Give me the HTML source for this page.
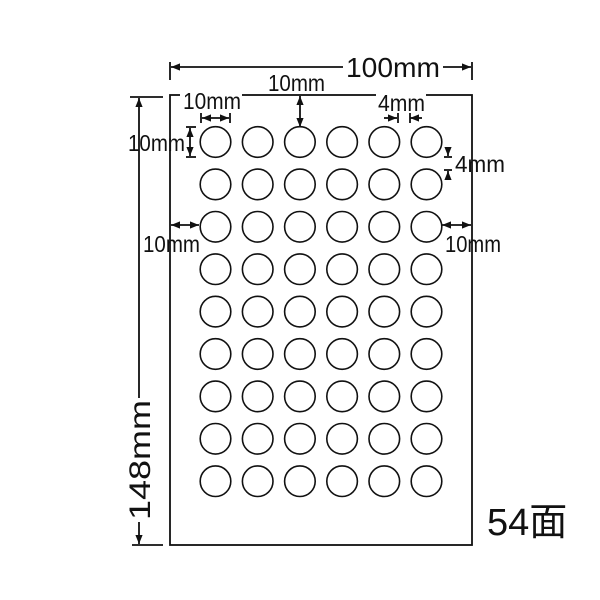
<!DOCTYPE html>
<html><head><meta charset="utf-8"><style>html,body{margin:0;padding:0;background:#fff}svg{display:block}</style></head>
<body>
<svg width="600" height="600" viewBox="0 0 600 600" xmlns="http://www.w3.org/2000/svg">
<defs>
<marker id="a" viewBox="0 0 10 10" refX="10" refY="5" markerWidth="5" markerHeight="5" orient="auto-start-reverse"><path d="M0,1 L10,5 L0,9 z" fill="#111"/></marker>
</defs>
<g stroke="#111" stroke-width="1.8" fill="none">
<rect x="170" y="95" width="302" height="450"/>
<line x1="170" y1="62" x2="170" y2="80"/><line x1="472" y1="62" x2="472" y2="80"/>
<line x1="171" y1="67" x2="343" y2="67" marker-start="url(#a)"/>
<line x1="443" y1="67" x2="471" y2="67" marker-end="url(#a)"/>
<line x1="130" y1="97" x2="163" y2="97"/><line x1="132" y1="545" x2="163" y2="545"/>
<line x1="139" y1="98" x2="139" y2="398" marker-start="url(#a)"/>
<line x1="139" y1="522" x2="139" y2="544" marker-end="url(#a)"/>
<line x1="201" y1="113" x2="201" y2="123"/><line x1="230" y1="113" x2="230" y2="123"/>
<line x1="202" y1="118" x2="229" y2="118" marker-start="url(#a)" marker-end="url(#a)"/>
<line x1="300" y1="96" x2="300" y2="127" marker-start="url(#a)" marker-end="url(#a)"/>
<line x1="384" y1="118" x2="397" y2="118" marker-end="url(#a)"/>
<line x1="410" y1="118" x2="422" y2="118" marker-start="url(#a)"/>
<line x1="398" y1="113" x2="398" y2="123"/><line x1="410" y1="113" x2="410" y2="123"/>
<line x1="186" y1="127" x2="196" y2="127"/><line x1="186" y1="157" x2="196" y2="157"/>
<line x1="190" y1="128" x2="190" y2="156" marker-start="url(#a)" marker-end="url(#a)"/>
<line x1="444" y1="157" x2="452" y2="157"/><line x1="444" y1="170" x2="452" y2="170"/>
<line x1="448" y1="147" x2="448" y2="156" marker-end="url(#a)"/>
<line x1="448" y1="171" x2="448" y2="180" marker-start="url(#a)"/>
<line x1="171" y1="225" x2="199" y2="225" marker-start="url(#a)" marker-end="url(#a)"/>
<line x1="442" y1="225" x2="471" y2="225" marker-start="url(#a)" marker-end="url(#a)"/>
<g stroke-width="1.6">
<circle cx="215.5" cy="142" r="15.3"/><circle cx="257.7" cy="142" r="15.3"/><circle cx="299.9" cy="142" r="15.3"/><circle cx="342.1" cy="142" r="15.3"/><circle cx="384.3" cy="142" r="15.3"/><circle cx="426.5" cy="142" r="15.3"/>
<circle cx="215.5" cy="184.4" r="15.3"/><circle cx="257.7" cy="184.4" r="15.3"/><circle cx="299.9" cy="184.4" r="15.3"/><circle cx="342.1" cy="184.4" r="15.3"/><circle cx="384.3" cy="184.4" r="15.3"/><circle cx="426.5" cy="184.4" r="15.3"/>
<circle cx="215.5" cy="226.8" r="15.3"/><circle cx="257.7" cy="226.8" r="15.3"/><circle cx="299.9" cy="226.8" r="15.3"/><circle cx="342.1" cy="226.8" r="15.3"/><circle cx="384.3" cy="226.8" r="15.3"/><circle cx="426.5" cy="226.8" r="15.3"/>
<circle cx="215.5" cy="269.2" r="15.3"/><circle cx="257.7" cy="269.2" r="15.3"/><circle cx="299.9" cy="269.2" r="15.3"/><circle cx="342.1" cy="269.2" r="15.3"/><circle cx="384.3" cy="269.2" r="15.3"/><circle cx="426.5" cy="269.2" r="15.3"/>
<circle cx="215.5" cy="311.6" r="15.3"/><circle cx="257.7" cy="311.6" r="15.3"/><circle cx="299.9" cy="311.6" r="15.3"/><circle cx="342.1" cy="311.6" r="15.3"/><circle cx="384.3" cy="311.6" r="15.3"/><circle cx="426.5" cy="311.6" r="15.3"/>
<circle cx="215.5" cy="354" r="15.3"/><circle cx="257.7" cy="354" r="15.3"/><circle cx="299.9" cy="354" r="15.3"/><circle cx="342.1" cy="354" r="15.3"/><circle cx="384.3" cy="354" r="15.3"/><circle cx="426.5" cy="354" r="15.3"/>
<circle cx="215.5" cy="396.4" r="15.3"/><circle cx="257.7" cy="396.4" r="15.3"/><circle cx="299.9" cy="396.4" r="15.3"/><circle cx="342.1" cy="396.4" r="15.3"/><circle cx="384.3" cy="396.4" r="15.3"/><circle cx="426.5" cy="396.4" r="15.3"/>
<circle cx="215.5" cy="438.8" r="15.3"/><circle cx="257.7" cy="438.8" r="15.3"/><circle cx="299.9" cy="438.8" r="15.3"/><circle cx="342.1" cy="438.8" r="15.3"/><circle cx="384.3" cy="438.8" r="15.3"/><circle cx="426.5" cy="438.8" r="15.3"/>
<circle cx="215.5" cy="481.2" r="15.3"/><circle cx="257.7" cy="481.2" r="15.3"/><circle cx="299.9" cy="481.2" r="15.3"/><circle cx="342.1" cy="481.2" r="15.3"/><circle cx="384.3" cy="481.2" r="15.3"/><circle cx="426.5" cy="481.2" r="15.3"/>
</g>
</g>
<rect x="180" y="90" width="62" height="12" fill="#fff"/>
<rect x="376" y="90" width="50" height="12" fill="#fff"/>
<g font-family="'Liberation Sans Narrow','Liberation Sans',sans-serif" fill="#111">
<text x="346" y="77" font-size="28" textLength="94" lengthAdjust="spacingAndGlyphs">100mm</text>
<text x="268" y="91" font-size="23" textLength="57" lengthAdjust="spacingAndGlyphs">10mm</text>
<text x="183" y="109" font-size="23" textLength="58" lengthAdjust="spacingAndGlyphs">10mm</text>
<text x="378" y="111" font-size="23" textLength="47" lengthAdjust="spacingAndGlyphs">4mm</text>
<text x="128" y="151" font-size="23" textLength="57" lengthAdjust="spacingAndGlyphs">10mm</text>
<text x="455" y="172" font-size="23" textLength="50" lengthAdjust="spacingAndGlyphs">4mm</text>
<text x="143" y="252" font-size="23" textLength="57" lengthAdjust="spacingAndGlyphs">10mm</text>
<text x="445" y="252" font-size="23" textLength="56" lengthAdjust="spacingAndGlyphs">10mm</text>
<text x="0" y="0" font-size="30" textLength="120" lengthAdjust="spacingAndGlyphs" transform="translate(150,520) rotate(-90)">148mm</text>
<text x="487" y="535" font-size="38" font-family="'Liberation Sans','Noto Sans CJK JP',sans-serif">54面</text>
</g>
</svg>
</body></html>
